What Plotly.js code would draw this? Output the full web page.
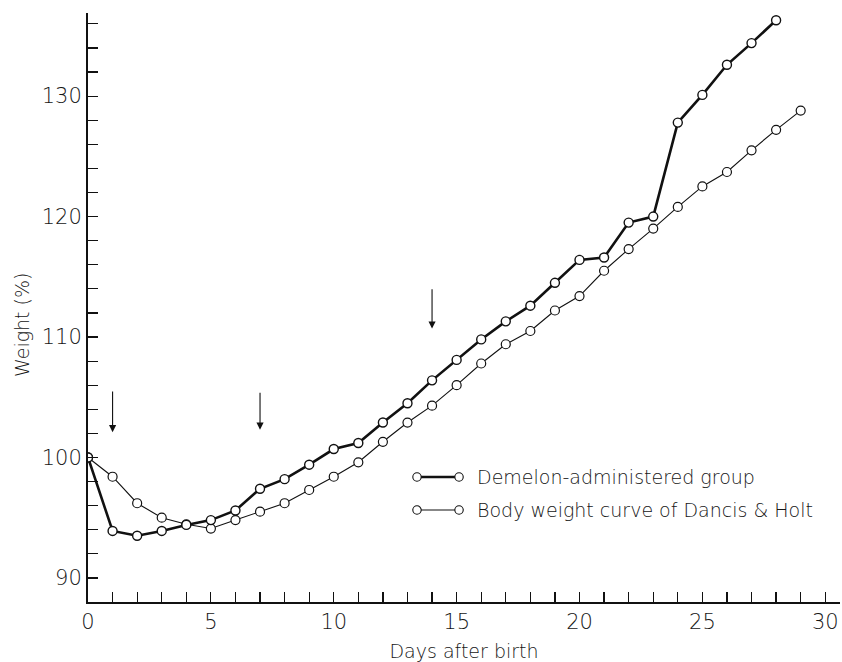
<!DOCTYPE html>
<html>
<head>
<meta charset="utf-8">
<script src="https://cdn.plot.ly/plotly-3.0.1.min.js"></script>
<style>html,body{margin:0;padding:0;background:#fff;}#chart{width:842px;height:662px;}</style>
</head>
<body>
<div id="chart"></div>
<script>
// ---- data ----
const demelonDays = [0,1,2,3,4,5,6,7,8,9,10,11,12,13,14,15,16,17,18,19,20,21,22,23,24,25,26,27,28];
const demelonWeight = [100,93.9,93.5,93.9,94.4,94.8,95.6,97.4,98.2,99.4,100.7,101.2,102.9,104.5,106.4,108.1,109.8,111.3,112.6,114.5,116.4,116.6,119.5,120.0,127.8,130.1,132.6,134.4,136.3];
const dancisDays = [0,1,2,3,4,5,6,7,8,9,10,11,12,13,14,15,16,17,18,19,20,21,22,23,24,25,26,27,28,29];
const dancisWeight = [100,98.4,96.2,95.0,94.45,94.1,94.8,95.5,96.2,97.3,98.4,99.6,101.3,102.9,104.3,106.0,107.8,109.4,110.5,112.2,113.4,115.5,117.3,119.0,120.8,122.5,123.7,125.5,127.2,128.8];
const seriesNames = ["Demelon-administered group", "Body weight curve of Dancis & Holt"];
const arrowDays = [1, 7, 14];
const arrowTail = [105.6, 105.5, 114.1];
const arrowHead = [102.1, 102.3, 110.7];
const xTitle = "Days after birth";
const yTitle = "Weight (%)";

const ink = "#111";
const txt = "#161616";
const fontFam = "'DejaVu Sans', 'Liberation Sans', sans-serif";

const traces = [
  {x: dancisDays, y: dancisWeight, mode: "lines+markers", name: seriesNames[1],
   line: {color: ink, width: 1.1},
   marker: {symbol: "circle", size: 9, color: "#fff", line: {color: ink, width: 1.2}}},
  {x: demelonDays, y: demelonWeight, mode: "lines+markers", name: seriesNames[0],
   line: {color: ink, width: 2.6},
   marker: {symbol: "circle", size: 9, color: "#fff", line: {color: ink, width: 1.4}}}
];

const annotations = arrowDays.map((d, i) => ({
  x: d, y: arrowHead[i], ax: d, ay: arrowTail[i], xref: "x", yref: "y", axref: "x", ayref: "y",
  text: "", showarrow: true, arrowhead: 2, arrowsize: 1.3, arrowwidth: 1.1, arrowcolor: ink
}));
annotations.push({
  xref: "paper", yref: "y", x: 0, y: 111.0, xshift: -66, xanchor: "center", yanchor: "middle",
  text: yTitle, textangle: -90, showarrow: false, font: {family: fontFam, size: 19, color: txt, weight: 200}
});

// legend key (decoration)
const rows = [{y: 0.2122, w: 2.6, name: seriesNames[0]}, {y: 0.1562, w: 1.1, name: seriesNames[1]}];
const shapes = [];
rows.forEach(r => {
  shapes.push({type: "line", xref: "paper", yref: "paper", x0: 0.4375, x1: 0.4934, y0: r.y, y1: r.y,
               line: {color: ink, width: r.w}, layer: "above"});
  [0.4375, 0.4934].forEach(cx => shapes.push({
    type: "circle", xref: "paper", yref: "paper", xsizemode: "pixel", ysizemode: "pixel",
    xanchor: cx, yanchor: r.y, x0: -4.2, x1: 4.2, y0: -4.2, y1: 4.2,
    fillcolor: "#fff", line: {color: ink, width: 1.1}, layer: "above"}));
  annotations.push({xref: "paper", yref: "paper", x: 0.5146, y: r.y, xanchor: "left", yanchor: "middle",
    text: r.name.replace("&", "&amp;"), showarrow: false, font: {family: fontFam, size: 19, color: txt, weight: 200}});
});

const layout = {
  width: 842, height: 662,
  margin: {l: 88, r: 2, t: 13, b: 60},
  paper_bgcolor: "#fff", plot_bgcolor: "#fff",
  showlegend: false,
  font: {family: fontFam, color: txt},
  xaxis: {
    range: [0, 30.6], showgrid: false, zeroline: false,
    showline: true, linecolor: ink, linewidth: 2,
    ticks: "inside", ticklen: 10, tickwidth: 1.2, tickcolor: ink,
    tick0: 0, dtick: 5,
    minor: {dtick: 1, ticks: "inside", ticklen: 10, tickwidth: 1.2, tickcolor: ink, showgrid: false},
    tickfont: {family: fontFam, size: 21, color: txt, weight: 200},
    title: {text: xTitle, font: {family: fontFam, size: 19, color: txt, weight: 200}, standoff: 11}
  },
  yaxis: {
    range: [88, 136.9], showgrid: false, zeroline: false,
    showline: true, linecolor: ink, linewidth: 2,
    ticks: "inside", ticklen: 10, tickwidth: 1.2, tickcolor: ink,
    tick0: 90, dtick: 10,
    minor: {dtick: 2, ticks: "inside", ticklen: 10, tickwidth: 1.2, tickcolor: ink, showgrid: false},
    tickfont: {family: fontFam, size: 21, color: txt, weight: 200}
  },
  annotations: annotations,
  shapes: shapes
};

Plotly.newPlot("chart", traces, layout, {staticPlot: true, displayModeBar: false});
</script>
</body>
</html>
